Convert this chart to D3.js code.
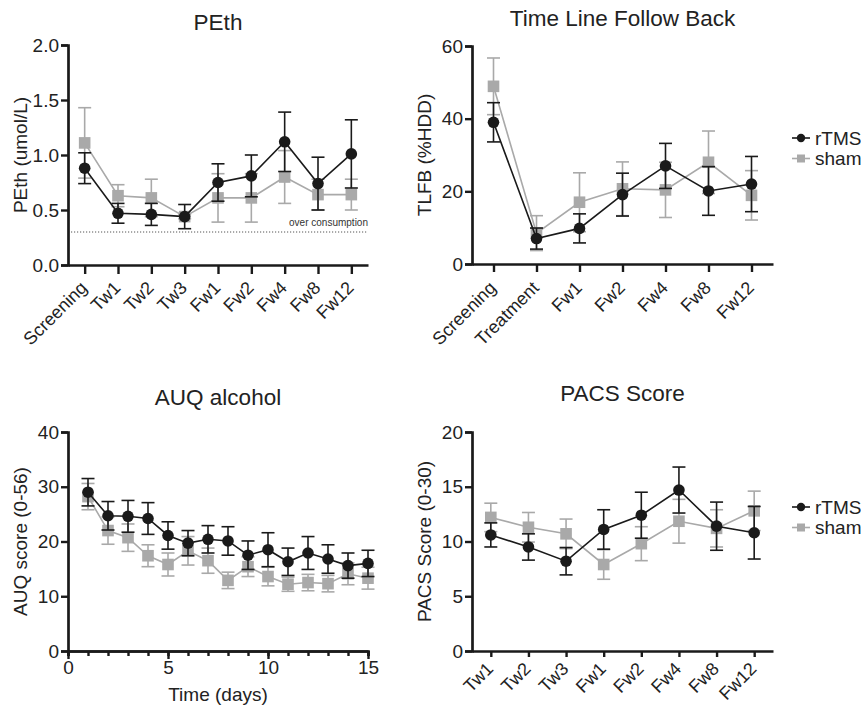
<!DOCTYPE html>
<html>
<head>
<meta charset="utf-8">
<script src="https://cdn.jsdelivr.net/npm/d3@7"></script>
<style>
body { margin: 0; background: #fff; }
svg { font-family: "Liberation Sans", Arial, Helvetica, sans-serif; }
</style>
</head>
<body>
<svg width="861" height="705"></svg>
<script>

// ---- data ----
var pethCats = ["Screening", "Tw1", "Tw2", "Tw3", "Fw1", "Fw2", "Fw4", "Fw8", "Fw12"];
var pethRtms = [0.88, 0.47, 0.46, 0.44, 0.75, 0.81, 1.12, 0.74, 1.01];
var pethRtmsSem = [0.14, 0.09, 0.10, 0.11, 0.17, 0.19, 0.27, 0.24, 0.31];
var pethSham = [1.11, 0.63, 0.61, 0.44, 0.61, 0.61, 0.80, 0.64, 0.64];
var pethShamSem = [0.32, 0.10, 0.17, 0.02, 0.22, 0.22, 0.24, 0.14, 0.14];
var pethTicks = [0, 0.5, 1.0, 1.5, 2.0];
var pethLimit = 0.3;

var tlfbCats = ["Screening", "Treatment", "Fw1", "Fw2", "Fw4", "Fw8", "Fw12"];
var tlfbRtms = [39.0, 7.0, 9.8, 19.1, 27.0, 20.1, 22.0];
var tlfbRtmsSem = [5.4, 2.9, 4.0, 5.9, 6.2, 6.7, 7.6];
var tlfbSham = [48.9, 8.5, 17.0, 20.7, 20.4, 28.0, 18.9];
var tlfbShamSem = [7.8, 4.8, 8.1, 7.4, 7.6, 8.6, 6.8];
var tlfbTicks = [0, 20, 40, 60];

var auqDays = [1, 2, 3, 4, 5, 6, 7, 8, 9, 10, 11, 12, 13, 14, 15];
var auqRtms = [29.0, 24.7, 24.6, 24.2, 21.1, 19.7, 20.4, 20.1, 17.5, 18.5, 16.3, 17.9, 16.8, 15.6, 16.0];
var auqRtmsSem = [2.5, 2.6, 2.9, 2.9, 2.5, 2.3, 2.5, 2.6, 2.6, 3.1, 2.5, 3.0, 2.6, 2.3, 2.4];
var auqSham = [28.2, 22.0, 20.7, 17.4, 15.8, 18.3, 16.5, 12.9, 15.4, 13.6, 12.2, 12.5, 12.3, 14.1, 13.3];
var auqShamSem = [2.4, 2.5, 2.5, 2.0, 2.1, 2.6, 2.3, 1.5, 1.8, 1.7, 1.3, 1.5, 1.5, 2.0, 2.0];
var auqTicks = [0, 10, 20, 30, 40];
var auqXTicks = [0, 5, 10, 15];

var pacsCats = ["Tw1", "Tw2", "Tw3", "Fw1", "Fw2", "Fw4", "Fw8", "Fw12"];
var pacsRtms = [10.6, 9.5, 8.2, 11.1, 12.4, 14.7, 11.4, 10.8];
var pacsRtmsSem = [1.1, 1.2, 1.25, 1.8, 2.1, 2.1, 2.2, 2.4];
var pacsSham = [12.2, 11.3, 10.7, 7.9, 9.8, 11.85, 11.2, 12.8];
var pacsShamSem = [1.3, 1.35, 1.35, 1.35, 1.55, 2.0, 1.7, 1.8];
var pacsTicks = [0, 5, 10, 15, 20];

var groups = ["rTMS", "sham"];
var colors = ["#1a1a1a", "#a9a9a9"];

var svg = d3.select("svg");

function zip(xs, ys, es) {
  return xs.map(function (x, i) { return { x: x, y: ys[i], e: es[i] }; });
}

// one panel: box = [left, top, right, bottom]
function panel(box, xScale, yScale, yTicks, title, titleY, ylab, series) {
  var g = svg.append("g");
  var l = box[0], t = box[1], r = box[2], b = box[3];

  g.append("text")
    .attr("x", (l + r) / 2).attr("y", titleY)
    .attr("text-anchor", "middle")
    .style("font-size", "22.5px").style("fill", "#222")
    .text(title);

  var yAx = g.append("g")
    .attr("transform", "translate(" + l + ",0)")
    .call(d3.axisLeft(yScale).tickValues(yTicks).tickSize(7).tickPadding(2)
      .tickFormat(yTicks[yTicks.length - 1] <= 2 ? d3.format(".1f") : d3.format("d")));
  styleAxis(yAx);
  yAx.selectAll("text").style("font-size", "19px");

  g.append("text")
    .attr("text-anchor", "middle")
    .attr("transform", "translate(" + (l - 41) + "," + ((t + b) / 2) + ")rotate(-90)")
    .style("font-size", "19px").style("fill", "#222")
    .text(ylab);

  // sham first, rTMS on top
  [1, 0].forEach(function (k) {
    var data = series[k];
    var sg = g.append("g");
    var line = d3.line()
      .x(function (d) { return xScale(d.x); })
      .y(function (d) { return yScale(d.y); });
    sg.append("path").datum(data)
      .attr("d", line)
      .style("fill", "none").style("stroke", colors[k]).style("stroke-width", 1.6);
    var eb = sg.selectAll(".eb").data(data).enter().append("g");
    eb.append("line")
      .attr("x1", function (d) { return xScale(d.x); })
      .attr("x2", function (d) { return xScale(d.x); })
      .attr("y1", function (d) { return yScale(d.y - d.e); })
      .attr("y2", function (d) { return yScale(d.y + d.e); })
      .style("stroke", colors[k]).style("stroke-width", 1.6);
    [-1, 1].forEach(function (s) {
      eb.append("line")
        .attr("x1", function (d) { return xScale(d.x) - 6.5; })
        .attr("x2", function (d) { return xScale(d.x) + 6.5; })
        .attr("y1", function (d) { return yScale(d.y + s * d.e); })
        .attr("y2", function (d) { return yScale(d.y + s * d.e); })
        .style("stroke", colors[k]).style("stroke-width", 1.6);
    });
    if (k === 0) {
      sg.selectAll("circle").data(data).enter().append("circle")
        .attr("cx", function (d) { return xScale(d.x); })
        .attr("cy", function (d) { return yScale(d.y); })
        .attr("r", 5.8).style("fill", colors[k]);
    } else {
      sg.selectAll("rect").data(data).enter().append("rect")
        .attr("x", function (d) { return xScale(d.x) - 5.8; })
        .attr("y", function (d) { return yScale(d.y) - 5.8; })
        .attr("width", 11.6).attr("height", 11.6).style("fill", colors[k]);
    }
  });
  return g;
}

function styleAxis(ax) {
  ax.select(".domain").style("stroke", "#1a1a1a").style("stroke-width", 2.7);
  ax.selectAll(".tick line").style("stroke", "#1a1a1a").style("stroke-width", 2.4);
  ax.selectAll("text").style("fill", "#222").style("font-family", "Liberation Sans, Arial, sans-serif");
}

// rotated category labels; tick = tick length, dy = drop of label baseline end
function catXAxis(g, xScale, y, tick, dy) {
  var ax = g.append("g")
    .attr("transform", "translate(0," + y + ")")
    .call(d3.axisBottom(xScale).tickSize(tick).tickSizeOuter(0));
  styleAxis(ax);
  ax.selectAll("text")
    .attr("y", 0).attr("dy", 0)
    .attr("transform", "translate(3," + dy + ")rotate(-45)")
    .style("text-anchor", "end")
    .style("font-size", "18px");
}

function legend(x, y) {
  var lg = svg.append("g").attr("transform", "translate(" + x + "," + y + ")");
  var items = lg.selectAll("g").data(groups).enter().append("g")
    .attr("transform", function (d, i) { return "translate(0," + (i * 20.5) + ")"; });
  items.append("line").attr("x1", 0).attr("x2", 18)
    .style("stroke", function (d, i) { return colors[i]; }).style("stroke-width", 1.6);
  items.each(function (d, i) {
    var it = d3.select(this);
    if (i === 0) it.append("circle").attr("cx", 9).attr("r", 4.2).style("fill", colors[i]);
    else it.append("rect").attr("x", 5).attr("y", -4).attr("width", 8).attr("height", 8).style("fill", colors[i]);
  });
  items.append("text").attr("x", 23).attr("dy", "0.35em")
    .style("font-size", "19px").style("fill", "#222")
    .text(function (d) { return d; });
}

// ---- PEth ----
var x1 = d3.scalePoint().domain(pethCats).range([68, 368]).padding(0.5);
var y1 = d3.scaleLinear().domain([0, 2]).range([265, 45]);
var g1 = panel([68, 45, 368, 265], x1, y1, pethTicks, "PEth", 30, "PEth (umol/L)",
  [zip(pethCats, pethRtms, pethRtmsSem), zip(pethCats, pethSham, pethShamSem)]);
g1.insert("line", ":first-child")
  .attr("x1", 68).attr("x2", 368)
  .attr("y1", y1(pethLimit)).attr("y2", y1(pethLimit))
  .style("stroke", "#555").style("stroke-width", 1).style("stroke-dasharray", "1.2,1.8");
g1.append("text")
  .attr("x", 368).attr("y", y1(pethLimit) - 6)
  .attr("text-anchor", "end")
  .style("font-size", "10px").style("fill", "#333")
  .text("over consumption");
catXAxis(g1, x1, 265, 9, 24);

// ---- TLFB ----
var x2 = d3.scalePoint().domain(tlfbCats).range([472, 773]).padding(0.5);
var y2 = d3.scaleLinear().domain([0, 60]).range([264, 46]);
var g2 = panel([472, 46, 773, 264], x2, y2, tlfbTicks, "Time Line Follow Back", 26, "TLFB (%HDD)",
  [zip(tlfbCats, tlfbRtms, tlfbRtmsSem), zip(tlfbCats, tlfbSham, tlfbShamSem)]);
catXAxis(g2, x2, 264, 8, 25);
legend(792, 138);

// ---- AUQ ----
var x3 = d3.scaleLinear().domain([0, 15]).range([68, 368]);
var y3 = d3.scaleLinear().domain([0, 40]).range([651, 432]);
var g3 = panel([68, 432, 368, 651], x3, y3, auqTicks, "AUQ alcohol", 405, "AUQ score (0-56)",
  [zip(auqDays, auqRtms, auqRtmsSem), zip(auqDays, auqSham, auqShamSem)]);
var minor = g3.append("g").attr("transform", "translate(0,651)")
  .call(d3.axisBottom(x3).tickValues(d3.range(0, 16)).tickSize(5).tickFormat(""));
styleAxis(minor);
var major = g3.append("g").attr("transform", "translate(0,651)")
  .call(d3.axisBottom(x3).tickValues(auqXTicks).tickSize(8).tickSizeOuter(0).tickPadding(2));
styleAxis(major);
major.selectAll("text").style("font-size", "19px");
g3.append("text")
  .attr("x", 218).attr("y", 701)
  .attr("text-anchor", "middle")
  .style("font-size", "19px").style("fill", "#222")
  .text("Time (days)");

// ---- PACS ----
var x4 = d3.scalePoint().domain(pacsCats).range([472, 773]).padding(0.5);
var y4 = d3.scaleLinear().domain([0, 20]).range([651, 432]);
var g4 = panel([472, 432, 773, 651], x4, y4, pacsTicks, "PACS Score", 401, "PACS Score (0-30)",
  [zip(pacsCats, pacsRtms, pacsRtmsSem), zip(pacsCats, pacsSham, pacsShamSem)]);
catXAxis(g4, x4, 651, 6, 19);
legend(792, 507);

</script>
</body>
</html>
